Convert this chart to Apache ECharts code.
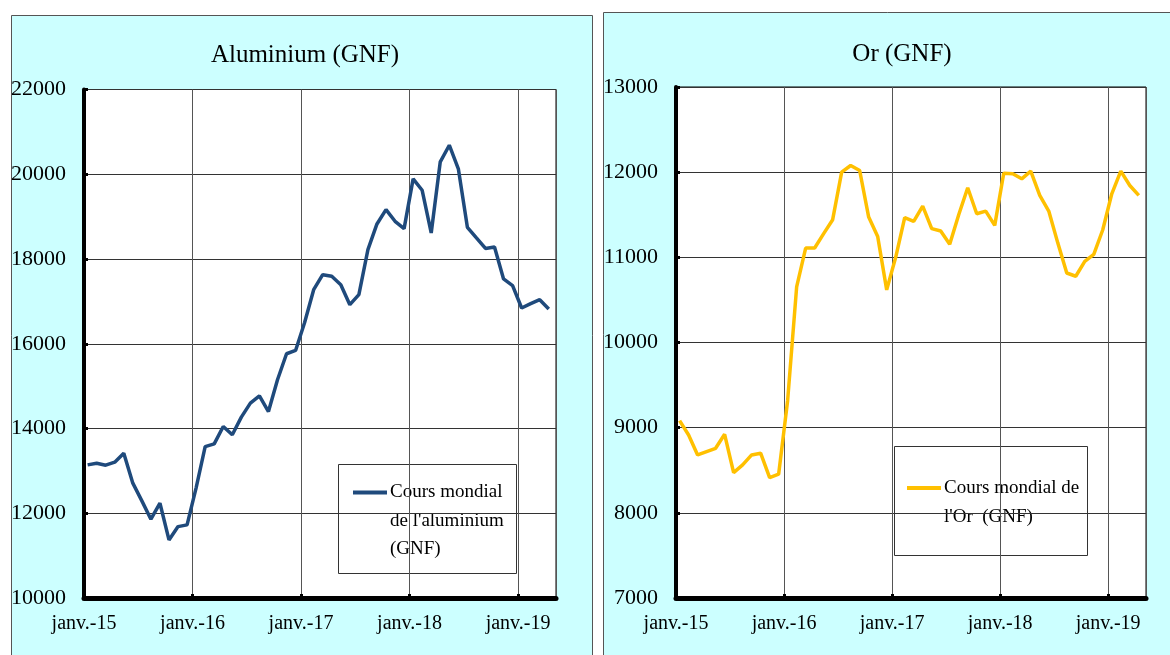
<!DOCTYPE html>
<html>
<head>
<meta charset="utf-8">
<script src="https://cdn.jsdelivr.net/npm/echarts@6/dist/echarts.min.js"></script>
<style>
  html, body { margin: 0; padding: 0; background: #ffffff; }
  #chart { width: 1170px; height: 655px; }
</style>
</head>
<body>
<div id="chart"></div>
<script>
// ---- Data (monthly, janv. 2015 -> avr. 2019) ----
const xTickLabels = ['janv.-15', 'janv.-16', 'janv.-17', 'janv.-18', 'janv.-19'];

const aluminiumTitle = 'Aluminium (GNF)';
const aluminiumLegend = ['Cours mondial', "de l'aluminium", '(GNF)'];
const aluminiumValues = [
  13142, 13181, 13134, 13205, 13418, 12710, 12292, 11859, 12237, 11370, 11685, 11725,
  12600, 13574, 13638, 14047, 13851, 14269, 14600, 14772, 14401, 15150, 15764, 15842,
  16500, 17276, 17630, 17591, 17394, 16922, 17158, 18221, 18827, 19166, 18890, 18717,
  19891, 19622, 18615, 20293, 20685, 20128, 18748, 18497, 18250, 18285, 17529, 17371,
  16844, 16946, 17040, 16820
];
const aluminiumTicks = [10000, 12000, 14000, 16000, 18000, 20000, 22000];

const orTitle = 'Or (GNF)';
const orLegend = ['Cours mondial de', "l'Or  (GNF)"];
const orValues = [
  9082, 8914, 8680, 8719, 8758, 8922, 8473, 8563, 8680, 8700, 8414, 8454,
  9320, 10652, 11109, 11109, 11278, 11442, 12000, 12078, 12020, 11473, 11245, 10618,
  11000, 11466, 11422, 11602, 11337, 11309, 11153, 11500, 11817, 11512, 11543, 11375,
  11988, 11981, 11922, 12012, 11727, 11543, 11170, 10816, 10778, 10953, 11035, 11324,
  11746, 12012, 11844, 11727
];
const orTicks = [7000, 8000, 9000, 10000, 11000, 12000, 13000];

// ---- Build chart ----
const FONT = '"Liberation Serif", "Times New Roman", serif';
const monthOffset = 0.4; // data dated within the month, gridlines on 1 Jan
function toPoints(vals) { return vals.map((v, i) => [i + monthOffset, v]); }

function xAxisFor(gridIndex) {
  return {
    type: 'value', gridIndex: gridIndex, min: 0, max: 52.2, interval: 12,
    axisLine: { show: true, onZero: false, lineStyle: { color: '#000', width: 5 } },
    axisTick: { show: true, inside: true, length: 4, lineStyle: { color: '#000', width: 3 } },
    axisLabel: {
      margin: 16, color: '#000', fontFamily: FONT, fontSize: 20, showMaxLabel: false,
      formatter: v => (v % 12 === 0 ? (xTickLabels[v / 12] || '') : '')
    },
    splitLine: { show: true, lineStyle: { color: '#555', width: 1 } }
  };
}
function yAxisFor(gridIndex, ticks) {
  return {
    type: 'value', gridIndex: gridIndex,
    min: ticks[0], max: ticks[ticks.length - 1], interval: ticks[1] - ticks[0],
    axisLine: { show: true, onZero: false, lineStyle: { color: '#000', width: 4 } },
    axisTick: { show: true, inside: true, length: 4, lineStyle: { color: '#000', width: 3 } },
    axisLabel: { margin: 18, color: '#000', fontFamily: FONT, fontSize: 22,
                 formatter: v => String(v) },
    splitLine: { show: true, lineStyle: { color: '#333', width: 1 } }
  };
}

function legendGraphic(box, lineColor, lines) {
  return {
    type: 'group', z: 100,
    children: [
      { type: 'rect', shape: { x: box.x, y: box.y, width: box.w, height: box.h },
        style: { fill: '#fff', stroke: '#333', lineWidth: 1 } },
      { type: 'line', shape: { x1: box.lx1, y1: box.ly, x2: box.lx2, y2: box.ly },
        style: { stroke: lineColor, lineWidth: 4 } },
      { type: 'text', x: box.tx, y: box.ly - box.lh / 2,
        style: { text: lines.join('\n'), font: '19px ' + FONT, fill: '#000',
                 lineHeight: box.lh, verticalAlign: 'top', align: 'left' } }
    ]
  };
}

const chart = echarts.init(document.getElementById('chart'), null, { renderer: 'canvas' });
chart.setOption({
  animation: false,
  backgroundColor: '#ffffff',
  graphic: [
    { type: 'rect', z: -10, shape: { x: 11.5, y: 15.5, width: 581, height: 700 },
      style: { fill: '#CCFFFF', stroke: '#555', lineWidth: 1 } },
    { type: 'rect', z: -10, shape: { x: 603.5, y: 12.5, width: 700, height: 700 },
      style: { fill: '#CCFFFF', stroke: '#555', lineWidth: 1 } },
    { type: 'text', z: 10, x: 305, y: 55,
      style: { text: aluminiumTitle, font: '25px ' + FONT, fill: '#000', align: 'center', verticalAlign: 'middle' } },
    { type: 'text', z: 10, x: 902, y: 54,
      style: { text: orTitle, font: '25px ' + FONT, fill: '#000', align: 'center', verticalAlign: 'middle' } },
    legendGraphic({ x: 338.5, y: 464.5, w: 178, h: 109, lx1: 353, lx2: 387, ly: 492.5, tx: 390, lh: 28.5 },
                  '#1F4A7C', aluminiumLegend),
    legendGraphic({ x: 894.5, y: 446.5, w: 193, h: 109, lx1: 907, lx2: 941, ly: 488, tx: 944, lh: 29 },
                  '#FFC000', orLegend)
  ],
  grid: [
    { left: 84, top: 89.5, width: 472, height: 508.5, show: true, backgroundColor: '#fff',
      borderColor: '#000', borderWidth: 1, containLabel: false },
    { left: 676, top: 87, width: 470, height: 511, show: true, backgroundColor: '#fff',
      borderColor: '#000', borderWidth: 1, containLabel: false }
  ],
  xAxis: [xAxisFor(0), xAxisFor(1)],
  yAxis: [yAxisFor(0, aluminiumTicks), yAxisFor(1, orTicks)],
  series: [
    { name: aluminiumLegend.join(' '), type: 'line', xAxisIndex: 0, yAxisIndex: 0,
      data: toPoints(aluminiumValues), showSymbol: false, symbol: 'none',
      lineStyle: { color: '#1F4A7C', width: 3.5 }, z: 5 },
    { name: orLegend.join(' '), type: 'line', xAxisIndex: 1, yAxisIndex: 1,
      data: toPoints(orValues), showSymbol: false, symbol: 'none',
      lineStyle: { color: '#FFC000', width: 3.5 }, z: 5 }
  ]
});
</script>
</body>
</html>
